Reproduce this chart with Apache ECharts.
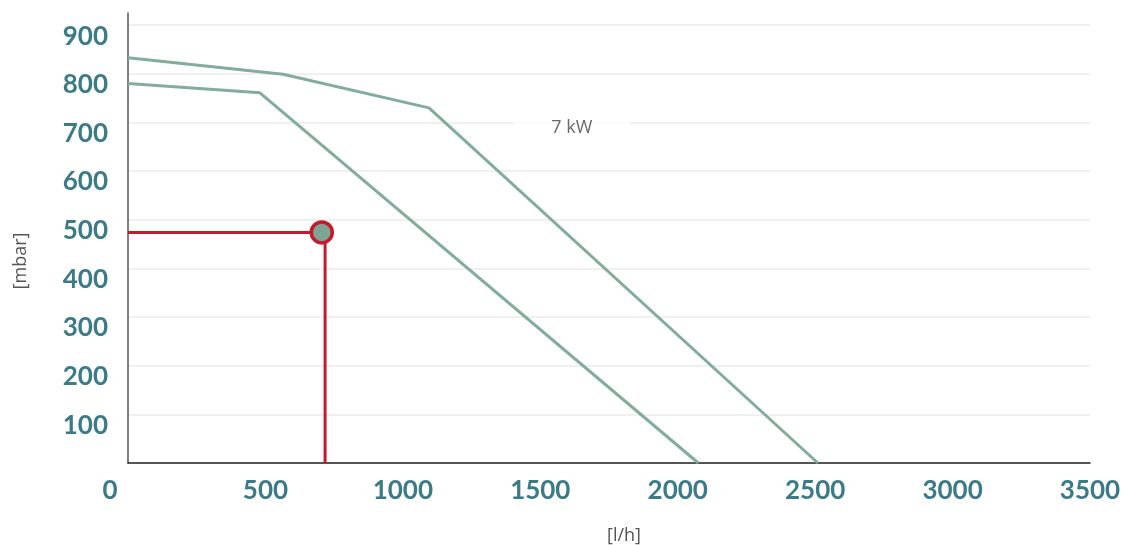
<!DOCTYPE html>
<html>
<head>
<meta charset="utf-8">
<script src="https://cdn.jsdelivr.net/npm/echarts@6/dist/echarts.min.js"></script>
<style>
  html, body { margin: 0; padding: 0; background: #fff; }
  #chart { width: 1128px; height: 545px; }
</style>
</head>
<body>
<div id="chart"></div>
<script>
// ---- data ----
const curveLow = [[0, 780], [480, 761], [2075, 0]];
const curveHigh = [[0, 833], [564, 799], [1095, 730], [2510, 0]];
const operatingPoint = [705, 474];
const operatingLines = [[0, 474], [717, 474], [717, 0]];
const annotationText = '7 kW';
const annotationPos = [1615, 700];
const xTicks = [0, 500, 1000, 1500, 2000, 2500, 3000, 3500];
const yTicks = [100, 200, 300, 400, 500, 600, 700, 800, 900];
const xName = '[l/h]';
const yName = '[mbar]';

const teal = '#3b7b87';
const green = '#82ad9b';
const red = '#c41a2b';

const chart = echarts.init(document.getElementById('chart'), null, { renderer: 'canvas' });
chart.setOption({
  animation: false,
  backgroundColor: '#ffffff',
  grid: { left: 128, right: 38, top: 13, bottom: 82, containLabel: false, outerBoundsMode: 'none' },
  xAxis: {
    type: 'value',
    min: 0, max: 3500, interval: 500,
    name: xName,
    nameLocation: 'middle',
    nameGap: 64,
    nameTextStyle: { fontFamily: 'Open Sans', fontSize: 18, color: '#555', padding: [0, 0, 0, 30] },
    axisLine: { show: true, lineStyle: { color: '#222', width: 1.5 } },
    axisTick: { show: false },
    splitLine: { show: false },
    axisLabel: {
      margin: 15,
      fontFamily: 'Lato', fontWeight: 'bold', fontSize: 26, color: teal,
      formatter: v => xTicks.includes(v) ? (v === 0 ? '{z|0}' : String(v)) : '',
      rich: { z: { fontFamily: 'Lato', fontWeight: 'bold', fontSize: 26, color: teal, padding: [0, 36, 0, 0] } }
    }
  },
  yAxis: {
    type: 'value',
    min: 0, max: 925, interval: 100,
    name: yName,
    nameLocation: 'middle',
    nameGap: 98,
    nameTextStyle: { fontFamily: 'Open Sans', fontSize: 18, color: '#555', padding: [0, 46, 0, 0] },
    axisLine: { show: true, lineStyle: { color: '#555', width: 1.5 } },
    axisTick: { show: false },
    splitLine: { show: true, showMaxLine: false, lineStyle: { color: '#ebebeb', width: 1.5 } },
    axisLabel: {
      showMaxLabel: false,
      margin: 20,
      fontFamily: 'Lato', fontWeight: 'bold', fontSize: 26, color: teal,
      verticalAlign: 'top', lineHeight: 22,
      formatter: v => yTicks.includes(v) ? String(v) : ''
    }
  },
  series: [
    {
      type: 'line', data: curveLow, symbol: 'none', z: 3,
      lineStyle: { color: green, width: 3 }
    },
    {
      type: 'line', data: curveHigh, symbol: 'none', z: 3,
      lineStyle: { color: green, width: 3 }
    },
    {
      type: 'line', data: operatingLines, symbol: 'none', z: 4,
      lineStyle: { color: red, width: 3 }
    },
    {
      type: 'scatter', data: [operatingPoint], symbol: 'circle', symbolSize: 21, z: 5,
      itemStyle: { color: '#7ea594', borderColor: red, borderWidth: 3.5, opacity: 1 }
    },
    {
      type: 'scatter', data: [annotationPos], symbolSize: 0, z: 6, silent: true,
      label: {
        show: true, position: 'inside', formatter: annotationText,
        fontFamily: 'Open Sans', fontSize: 18, color: '#444',
        backgroundColor: '#ffffff', padding: [6, 38, 4, 38], offset: [0, 5]
      }
    }
  ]
});
</script>
</body>
</html>
